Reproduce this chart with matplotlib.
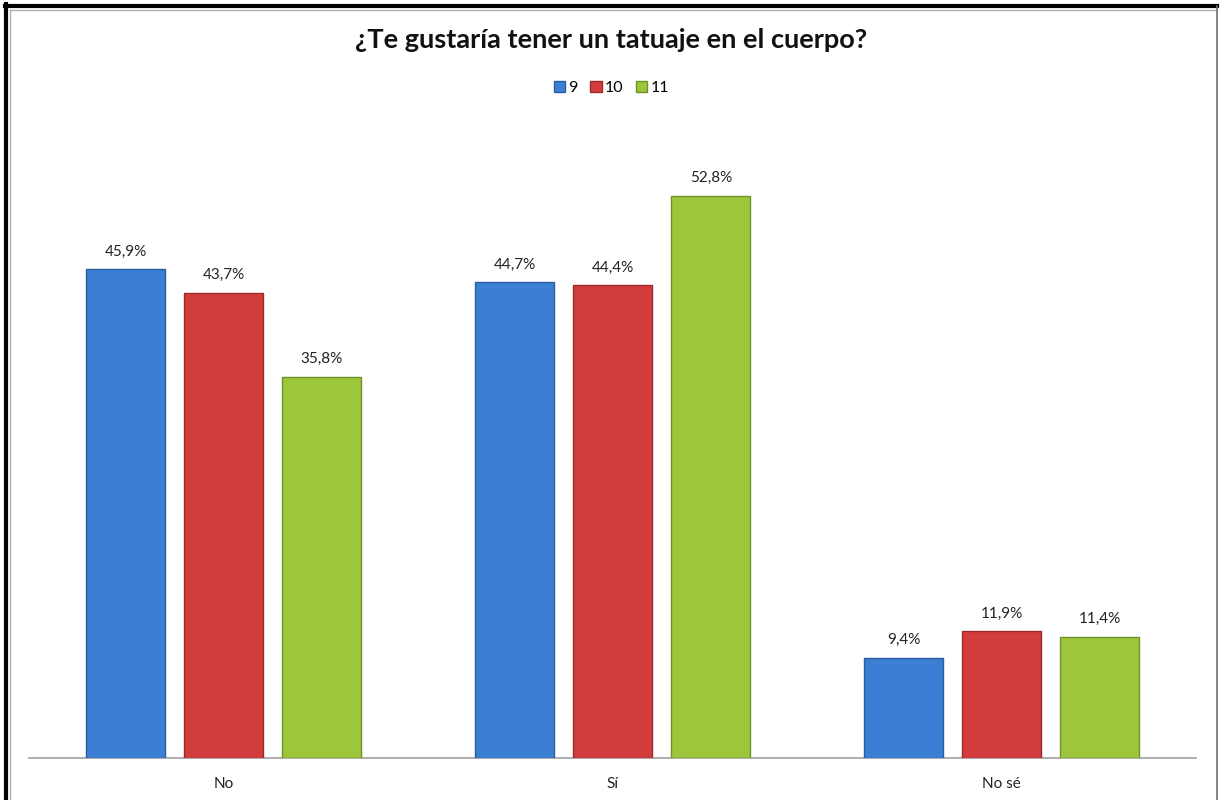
import numpy as np
import matplotlib.pyplot as plt
from matplotlib.patches import Rectangle
from matplotlib.lines import Line2D

# datos
categorias = ['No', 'Sí', 'No sé']
grados = ['9', '10', '11']
valores_9 = [45.9, 44.7, 9.4]
valores_10 = [43.7, 44.4, 11.9]
valores_11 = [35.8, 52.8, 11.4]

series = [valores_9, valores_10, valores_11]
colores = ['#3b7fd4', '#d23c3c', '#9cc63c']
bordes = ['#2a5f9e', '#9e2a2a', '#6f9228']

plt.rcParams['font.family'] = ['Lato', 'DejaVu Sans']

fig = plt.figure(figsize=(12.23, 8), dpi=100)
ax = fig.add_axes([0.0241, 0.0525, 0.954, 0.785])

x = np.arange(len(categorias))
ancho = 0.203
paso = 0.252

for i, vals in enumerate(series):
    pos = x + (i - 1) * paso
    ax.bar(pos, vals, width=ancho, color=colores[i], edgecolor=bordes[i],
           linewidth=1, label=grados[i], zorder=3)
    for p, v in zip(pos, vals):
        ax.text(p, v + 1.0, f'{v:.1f}%'.replace('.', ','), ha='center',
                va='bottom', fontsize=11, color='#222222')

ax.set_xlim(-0.5, 2.5)
ax.set_ylim(0, 59)
ax.set_xticks(x)
ax.set_xticklabels(categorias, fontsize=11, color='#222222')
ax.tick_params(axis='x', length=0, pad=14)
ax.set_yticks([])
for lado in ['top', 'right', 'left']:
    ax.spines[lado].set_visible(False)
ax.spines['bottom'].set_color('#a0a0a0')
ax.spines['bottom'].set_linewidth(1.2)

fig.text(0.5, 0.95, '¿Te gustaría tener un tatuaje en el cuerpo?',
         ha='center', va='center', fontsize=19.5, fontweight='bold',
         color='#111111')

handles = [Rectangle((0, 0), 1, 1, color=c, ec=b) for c, b in zip(colores, bordes)]
fig.legend(handles, grados, loc='center', bbox_to_anchor=(0.5, 0.89),
           ncol=3, frameon=False, fontsize=11.5, handlelength=0.7,
           handleheight=0.7, handletextpad=0.2, columnspacing=0.8)

# marco exterior
fig.add_artist(Line2D([0.0053, 0.0053], [0, 0.9944], color='black', lw=3,
                      transform=fig.transFigure))
fig.add_artist(Line2D([0.0041, 0.9952], [0.9925, 0.9925], color='black', lw=3,
                      transform=fig.transFigure))
fig.add_artist(Line2D([0.0082, 0.0082], [0, 0.987], color='#b0b0b0', lw=1,
                      transform=fig.transFigure))
fig.add_artist(Line2D([0.0082, 0.9952], [0.987, 0.987], color='#b0b0b0', lw=1,
                      transform=fig.transFigure))
fig.add_artist(Line2D([0.9952, 0.9952], [0, 0.9925], color='#707070', lw=1.2,
                      transform=fig.transFigure))

fig.savefig('out.png', dpi=100, facecolor='white')
